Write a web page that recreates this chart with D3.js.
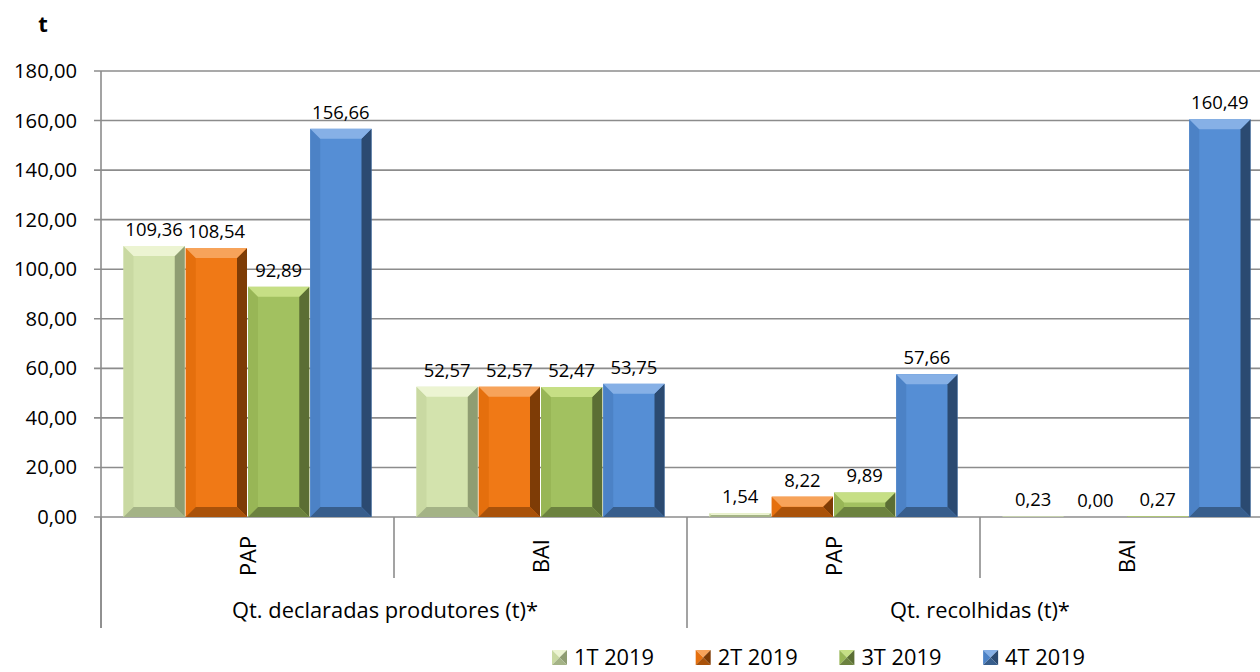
<!DOCTYPE html>
<html>
<head>
<meta charset="utf-8">
<script src="https://cdn.jsdelivr.net/npm/d3@7"></script>
<style>
  body { margin: 0; background: #fff; }
  svg { display: block; font-family: "Open Sans", sans-serif; }
</style>
</head>
<body>
<script>
// data
var series = ["1T 2019", "2T 2019", "3T 2019", "4T 2019"];
var categories = ["PAP", "BAI", "PAP", "BAI"];
var groups = ["Qt. declaradas produtores (t)*", "Qt. recolhidas (t)*"];
var v1T = [109.36, 52.57, 1.54, 0.23];
var v2T = [108.54, 52.57, 8.22, 0.00];
var v3T = [92.89, 52.47, 9.89, 0.27];
var v4T = [156.66, 53.75, 57.66, 160.49];
var yTicks = [0, 20, 40, 60, 80, 100, 120, 140, 160, 180];

var values = [v1T, v2T, v3T, v4T];

// colours per series: main, top, left, right, bottom
var palette = [
  {main: "#d3e3ad", top: "#ecf4d2", left: "#c9d9a2", right: "#8f9d72", bottom: "#a4b386"},
  {main: "#f07916", top: "#f7a35a", left: "#e56f0d", right: "#7e3c06", bottom: "#a9520a"},
  {main: "#a2c160", top: "#c6df85", left: "#98b656", right: "#5b6e34", bottom: "#6c823f"},
  {main: "#558ed5", top: "#86b0e6", left: "#4c82c6", right: "#2b4a71", bottom: "#385e8c"}
];

var width = 1260, height = 672;
var plot = {left: 101, right: 1273, top: 71, bottom: 517};

var locale = d3.formatLocale({decimal: ",", thousands: ".", grouping: [3], currency: ["", ""]});
var fmt = locale.format(".2f");

var svg = d3.select("body").append("svg")
    .attr("width", width)
    .attr("height", height);

// pick a font size so that a sample string has the width seen in the reference
function fitSize(sample, target) {
  var t = svg.append("text").attr("font-size", 100).text(sample);
  var w = t.node().getComputedTextLength();
  t.remove();
  return 100 * target / w;
}
var tickSize = fitSize("100,00", 63);
var valueSize = fitSize("92,89", 47);
var groupSize = fitSize("Qt. declaradas produtores (t)*", 306);
var legendSize = fitSize("1T 2019", 80);
var catSize = fitSize("PAP", 40);

var x0 = d3.scaleBand()
    .domain(d3.range(categories.length))
    .range([plot.left, plot.right]);

var x1 = d3.scaleBand()
    .domain(d3.range(series.length))
    .range([22, x0.bandwidth() - 22]);

var y = d3.scaleLinear()
    .domain([0, 180])
    .range([plot.bottom, plot.top]);

// gridlines
svg.append("g")
    .selectAll("line")
    .data(yTicks)
    .enter()
    .append("line")
    .attr("x1", plot.left - 7)
    .attr("x2", plot.right)
    .attr("y1", function(d){ return y(d); })
    .attr("y2", function(d){ return y(d); })
    .attr("stroke", "#8c8c8c")
    .attr("stroke-width", 1.6);

// y axis
var yAxis = d3.axisLeft(y)
    .tickValues(yTicks)
    .tickSize(0)
    .tickPadding(24)
    .tickFormat(fmt);

svg.append("g")
    .attr("transform", "translate(" + plot.left + ",0)")
    .call(yAxis)
    .call(function(g){ g.select(".domain").remove(); })
    .selectAll("text")
    .attr("font-size", tickSize)
    .attr("font-family", "Open Sans")
    .attr("fill", "#000");

svg.append("line")
    .attr("x1", plot.left).attr("x2", plot.left)
    .attr("y1", plot.top).attr("y2", 628)
    .attr("stroke", "#8c8c8c").attr("stroke-width", 1.6);

// category dividers below axis
var dividers = d3.range(categories.length + 1).map(function(i){
  return {x: plot.left + i * x0.bandwidth(), long: i % 2 === 0};
});
svg.append("g")
    .selectAll("line")
    .data(dividers)
    .enter()
    .append("line")
    .attr("x1", function(d){ return d.x; })
    .attr("x2", function(d){ return d.x; })
    .attr("y1", plot.bottom)
    .attr("y2", function(d){ return d.long ? 628 : 578; })
    .attr("stroke", "#8c8c8c")
    .attr("stroke-width", 1.6);

// bars with bevel
function bevelFaces(x, yTop, w, h) {
  var b = Math.min(10, w / 2, h / 2);
  var yb = yTop + h;
  return {
    top: [[x, yTop], [x + w, yTop], [x + w - b, yTop + b], [x + b, yTop + b]],
    left: [[x, yTop], [x + b, yTop + b], [x + b, yb - b], [x, yb]],
    right: [[x + w, yTop], [x + w, yb], [x + w - b, yb - b], [x + w - b, yTop + b]],
    bottom: [[x, yb], [x + w, yb], [x + w - b, yb - b], [x + b, yb - b]]
  };
}

var barData = [];
values.forEach(function(vals, s){
  vals.forEach(function(v, c){
    barData.push({s: s, c: c, v: v});
  });
});

var bars = svg.append("g")
    .selectAll("g")
    .data(barData)
    .enter()
    .append("g");

bars.each(function(d){
  var g = d3.select(this);
  var x = x0(d.c) + x1(d.s) + 0.5;
  var w = x1.bandwidth() - 1;
  var yt = y(d.v);
  var h = y(0) - yt;
  if (h <= 0) return;
  var col = palette[d.s];
  g.append("rect")
      .attr("x", x).attr("y", yt)
      .attr("width", w).attr("height", h)
      .attr("fill", col.main);
  var f = bevelFaces(x, yt, w, h);
  ["left", "right", "bottom", "top"].forEach(function(k){
    g.append("polygon")
        .attr("points", f[k].map(function(p){ return p.join(","); }).join(" "))
        .attr("fill", col[k]);
  });
});

// value labels
svg.append("g")
    .selectAll("text")
    .data(barData)
    .enter()
    .append("text")
    .attr("x", function(d){ return x0(d.c) + x1(d.s) + x1.bandwidth() / 2; })
    .attr("y", function(d){ return y(d.v) - 10; })
    .attr("text-anchor", "middle")
    .attr("font-size", valueSize)
    .text(function(d){ return fmt(d.v); });

// category labels (rotated)
svg.append("g")
    .selectAll("text")
    .data(categories)
    .enter()
    .append("text")
    .attr("transform", function(d, i){
      return "translate(" + (x0(i) + x0.bandwidth() / 2 + 8) + ",556) rotate(-90)";
    })
    .attr("text-anchor", "middle")
    .attr("font-size", catSize)
    .text(function(d){ return d; });

// group labels
svg.append("g")
    .selectAll("text")
    .data(groups)
    .enter()
    .append("text")
    .attr("x", function(d, i){ return x0(i * 2) + x0.bandwidth() - (i === 0 ? 9 : 0); })
    .attr("y", 618)
    .attr("text-anchor", "middle")
    .attr("font-size", groupSize)
    .text(function(d){ return d; });

// unit label
svg.append("text")
    .attr("x", 43)
    .attr("y", 32)
    .attr("text-anchor", "middle")
    .attr("font-size", 22)
    .attr("font-weight", "bold")
    .text("t");

// legend
var legend = svg.append("g")
    .selectAll("g")
    .data(series)
    .enter()
    .append("g")
    .attr("transform", function(d, i){ return "translate(" + (552 + i * 143.7) + ",650)"; });

legend.each(function(d, i){
  var g = d3.select(this);
  var col = palette[i];
  var s = 15, c = s / 2;
  var tri = {
    top: [[0, 0], [s, 0], [c, c]],
    left: [[0, 0], [c, c], [0, s]],
    right: [[s, 0], [s, s], [c, c]],
    bottom: [[0, s], [s, s], [c, c]]
  };
  ["top", "left", "right", "bottom"].forEach(function(k){
    g.append("polygon")
        .attr("points", tri[k].map(function(p){ return p.join(","); }).join(" "))
        .attr("fill", col[k]);
  });
  g.append("text")
      .attr("x", 22)
      .attr("y", 15)
      .attr("font-size", legendSize)
      .text(d);
});
</script>
</body>
</html>
